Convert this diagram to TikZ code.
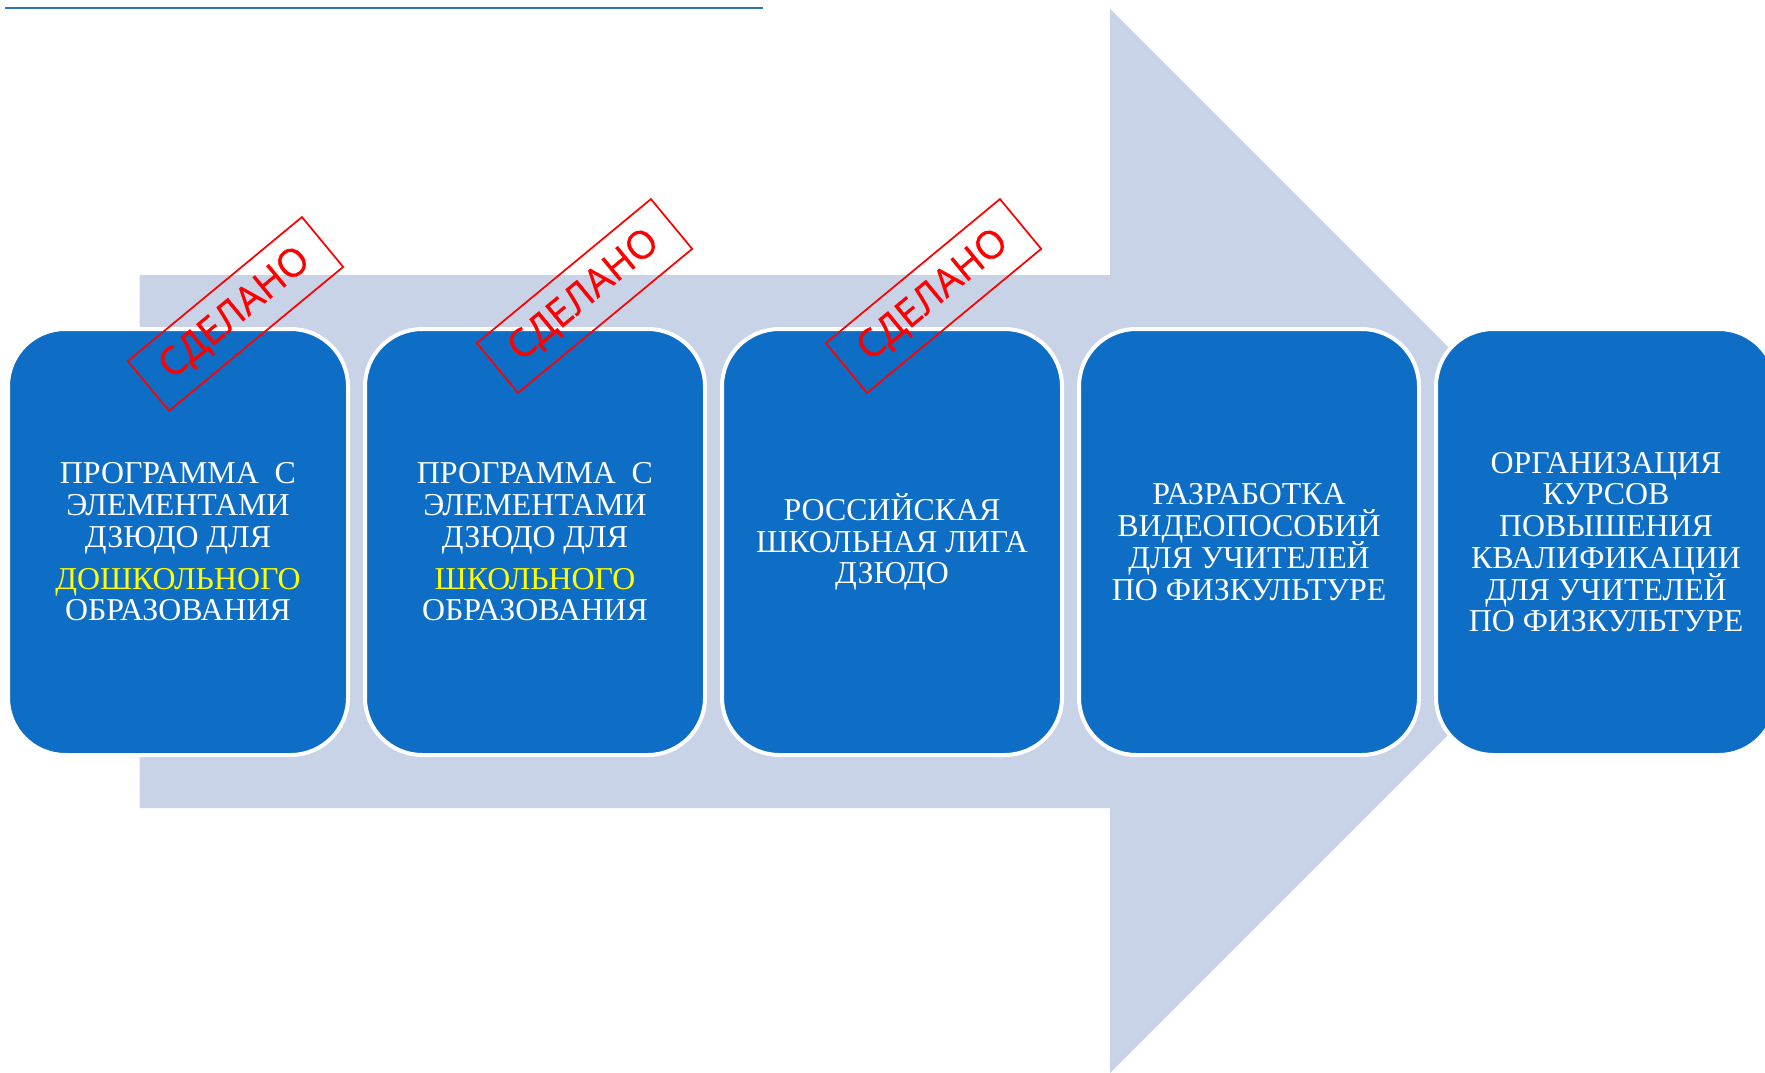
\documentclass[tikz,border=0pt]{standalone}
\usepackage{fontspec}
\setmainfont{Liberation Serif}
\newfontfamily\boxfont{Liberation Serif}
\newfontfamily\stampfont[FakeBold=0.6]{Open Sans}
\newcommand\boxtextstyle{\boxfont\fontsize{23.9}{23.8}\selectfont\lineskiplimit -50pt\relax}
\definecolor{arrowc}{HTML}{C9D3E8}
\definecolor{boxc}{HTML}{0E6DC5}
\definecolor{linec}{HTML}{2E75B6}
\definecolor{yel}{HTML}{FFFF00}
\tikzset{
  stagebox/.style={draw=white,line width=3pt,fill=boxc,rounded corners=43pt,minimum width=255pt,minimum height=319.5pt,inner sep=0pt,outer sep=0pt,text=white,align=center,font=\boxtextstyle},
  stampbox/.style={draw=red,line width=1.3pt,rotate=39.6,minimum width=169.5pt,minimum height=48.5pt,inner sep=0pt,text=red,font=\stampfont\fontsize{29}{32}\selectfont}
}
\begin{document}
\begin{tikzpicture}[x=0.75pt,y=-0.75pt]
\useasboundingbox (0,0) rectangle (1765,1073);
\clip (0,0) rectangle (1765,1073);
\draw[linec,line width=1.4pt] (5,8) -- (763,8);
\fill[arrowc] (139.5,275) -- (1110,275) -- (1110,9) -- (1642,541) -- (1110,1073) -- (1110,808) -- (139.5,808) -- cycle;
\node[stagebox] (b1) at (178,542) {ПРОГРАММА\ \ С\\ЭЛЕМЕНТАМИ\\ДЗЮДО ДЛЯ\\[7.6pt]\textcolor{yel}{ДОШКОЛЬНОГО}\\ОБРАЗОВАНИЯ};
\node[stagebox] (b2) at (535,542) {ПРОГРАММА\ \ С\\ЭЛЕМЕНТАМИ\\ДЗЮДО ДЛЯ\\[7.6pt]\textcolor{yel}{ШКОЛЬНОГО}\\ОБРАЗОВАНИЯ};
\node[stagebox] (b3) at (892,542) {РОССИЙСКАЯ\\ШКОЛЬНАЯ ЛИГА\\ДЗЮДО};
\node[stagebox] (b4) at (1249,542) {РАЗРАБОТКА\\ВИДЕОПОСОБИЙ\\ДЛЯ УЧИТЕЛЕЙ\\ПО ФИЗКУЛЬТУРЕ};
\node[stagebox] (b5) at (1606,542) {ОРГАНИЗАЦИЯ\\КУРСОВ\\ПОВЫШЕНИЯ\\КВАЛИФИКАЦИИ\\ДЛЯ УЧИТЕЛЕЙ\\ПО ФИЗКУЛЬТУРЕ};
\node[stampbox] (s1) at (235.5,314) {СДЕЛАНО};
\node[stampbox] (s2) at (584.5,296) {СДЕЛАНО};
\node[stampbox] (s3) at (933.5,296) {СДЕЛАНО};
\end{tikzpicture}
\end{document}
